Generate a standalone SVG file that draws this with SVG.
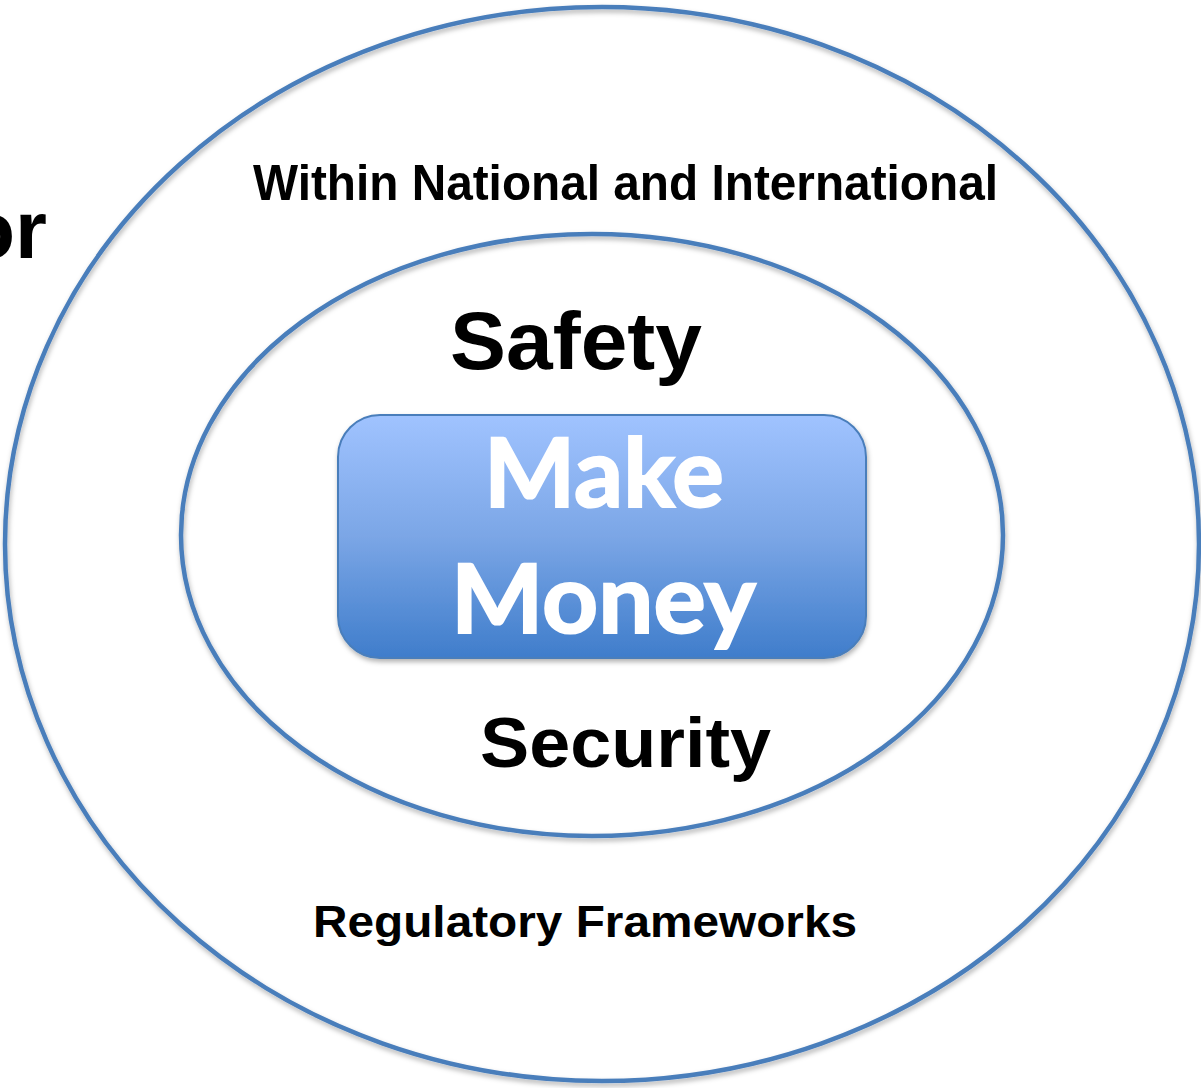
<svg xmlns="http://www.w3.org/2000/svg" width="1201" height="1088" viewBox="0 0 1201 1088">
<defs>
<style>
.ring{fill:none;stroke:#4A7EBB;stroke-width:4.5;filter:url(#sh)}
.lbl{font-family:"Liberation Sans",Arial,sans-serif;font-weight:bold;fill:#000}
.mm{font-family:Lato,"Open Sans",sans-serif;font-weight:bold;fill:#fff;stroke:#fff;stroke-width:2;font-size:96px}
</style>
<linearGradient id="g" x1="0" y1="0" x2="0" y2="1">
<stop offset="0" stop-color="#A0C3FF"/>
<stop offset="0.5" stop-color="#7BA6E6"/>
<stop offset="1" stop-color="#3F7DCB"/>
</linearGradient>
<filter id="sh" x="-10%" y="-10%" width="120%" height="120%">
<feDropShadow dx="1" dy="3" stdDeviation="2.5" flood-color="#000" flood-opacity="0.3"/>
</filter>
</defs>
<rect width="1201" height="1088" fill="#fff"/>
<g id="outer">
<ellipse class="ring" cx="602" cy="544" rx="597" ry="537"/>
<text class="lbl" x="253" y="200" font-size="50" textLength="745" lengthAdjust="spacingAndGlyphs">Within National and International</text>
<text class="lbl" x="313" y="937" font-size="45" textLength="544" lengthAdjust="spacingAndGlyphs">Regulatory Frameworks</text>
</g>
<g id="inner">
<ellipse class="ring" cx="592" cy="535" rx="411" ry="301"/>
<text class="lbl" x="450" y="369" font-size="82" textLength="252" lengthAdjust="spacingAndGlyphs">Safety</text>
<text class="lbl" x="480" y="767" font-size="70" textLength="291" lengthAdjust="spacingAndGlyphs">Security</text>
</g>
<g id="core">
<rect x="338" y="415" width="528" height="243" rx="42" fill="url(#g)" stroke="#4A7EBB" stroke-width="2" filter="url(#sh)"/>
<text class="mm" x="484" y="507" textLength="240" lengthAdjust="spacingAndGlyphs">Make</text>
<text class="mm" x="451" y="633" textLength="305" lengthAdjust="spacingAndGlyphs">Money</text>
</g>
<g id="edge-text">
<text class="lbl" x="47" y="258" font-size="82" text-anchor="end">or</text>
</g>
<g id="connectors"/>
</svg>
